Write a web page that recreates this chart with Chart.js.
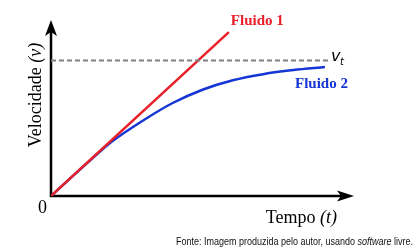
<!DOCTYPE html>
<html>
<head>
<meta charset="utf-8">
<script src="https://cdn.jsdelivr.net/npm/chart.js@4"></script>
<style>
  html, body { margin: 0; padding: 0; background: #fff; }
  canvas { display: block; }
</style>
</head>
<body>
<canvas id="grafico" width="418" height="249"></canvas>
<script>
// Dados (tempo em unidades arbitrarias, velocidade com v_t = 1)
const tempoFluido1 = [0, 5.87];
const velFluido1 = [0, 1.21];

const tempoFluido2 = [0, 0.5, 1, 1.5, 2, 3, 4, 5, 6, 7, 8, 9.04];
const velFluido2 = [0, 0.103, 0.205, 0.305, 0.40, 0.552, 0.685, 0.785, 0.855, 0.90, 0.93, 0.952];

const tempoVt = [0, 9.14];
const velVt = [1, 1];

const limiteTempo = 10;
const limiteVel = 1.3;

const vermelho = '#e8202a';
const azul = '#1535d4';

const pontos = (xs, ys) => xs.map((x, i) => ({ x: x, y: ys[i] }));

//---- Plugin que desenha os eixos com setas e os textos ----
const eixosSetas = {
    id: 'eixosSetas',
    beforeDatasetsDraw(chart) {
        const ctx = chart.ctx;
        const a = chart.chartArea;
        ctx.save();
        ctx.strokeStyle = '#000';
        ctx.fillStyle = '#000';
        ctx.lineWidth = 2.5;
        ctx.beginPath();
        ctx.moveTo(a.left, a.top + 8);
        ctx.lineTo(a.left, a.bottom);
        ctx.lineTo(a.right - 8, a.bottom);
        ctx.stroke();

        // seta do eixo vertical
        ctx.beginPath();
        ctx.moveTo(a.left, a.top);
        ctx.lineTo(a.left + 6, a.top + 16);
        ctx.lineTo(a.left, a.top + 12);
        ctx.lineTo(a.left - 6, a.top + 16);
        ctx.closePath();
        ctx.fill();

        // seta do eixo horizontal
        ctx.beginPath();
        ctx.moveTo(a.right, a.bottom);
        ctx.lineTo(a.right - 17, a.bottom - 5.5);
        ctx.lineTo(a.right - 13, a.bottom);
        ctx.lineTo(a.right - 17, a.bottom + 5.5);
        ctx.closePath();
        ctx.fill();
        ctx.restore();
    },
    afterDraw(chart) {
        const ctx = chart.ctx;
        const a = chart.chartArea;
        const sx = chart.scales.x;
        const sy = chart.scales.y;
        ctx.save();
        ctx.textBaseline = 'alphabetic';

        // rotulos das curvas
        ctx.font = 'bold 15px "Liberation Serif"';
        ctx.fillStyle = vermelho;
        ctx.textAlign = 'left';
        ctx.fillText('Fluido 1', sx.getPixelForValue(tempoFluido1[1]) + 2, 25);
        ctx.fillStyle = azul;
        ctx.fillText('Fluido 2', 295, 88);

        // v_t
        ctx.fillStyle = '#000';
        const yVt = sy.getPixelForValue(velVt[0]);
        ctx.font = 'italic 16px "DejaVu Sans"';
        ctx.fillText('v', 331, yVt);
        ctx.font = 'italic 10px "DejaVu Sans"';
        ctx.fillText('t', 340, yVt + 4);

        // origem
        ctx.font = '18px "Liberation Serif"';
        ctx.textAlign = 'right';
        ctx.fillText('0', a.left - 4, a.bottom + 17);

        // titulo do eixo x
        ctx.textAlign = 'left';
        const t1 = 'Tempo ';
        const t2 = '(t)';
        ctx.font = '18px "Liberation Serif"';
        const w1 = ctx.measureText(t1).width;
        ctx.font = 'italic 18px "Liberation Serif"';
        const w2 = ctx.measureText(t2).width;
        const xT = 337 - w1 - w2;
        ctx.font = '18px "Liberation Serif"';
        ctx.fillText(t1, xT, 223);
        ctx.font = 'italic 18px "Liberation Serif"';
        ctx.fillText(t2, xT + w1, 223);

        // titulo do eixo y (rodado)
        ctx.save();
        ctx.translate(41, 95);
        ctx.rotate(-Math.PI / 2);
        const v1 = 'Velocidade ';
        const v2 = '(v)';
        ctx.font = '18px "Liberation Serif"';
        const wv1 = ctx.measureText(v1).width;
        ctx.font = 'italic 18px "Liberation Serif"';
        const wv2 = ctx.measureText(v2).width;
        const x0 = -(wv1 + wv2) / 2;
        ctx.font = '18px "Liberation Serif"';
        ctx.fillText(v1, x0, 0);
        ctx.font = 'italic 18px "Liberation Serif"';
        ctx.fillText(v2, x0 + wv1, 0);
        ctx.restore();

        // fonte da figura (letra estreita: comprime na horizontal)
        const partes = [
            ['Fonte: Imagem produzida pelo autor, usando ', ''],
            ['software', 'italic '],
            [' livre.', '']
        ];
        const familia = '10.5px "Liberation Sans"';
        let total = 0;
        partes.forEach(p => {
            ctx.font = p[1] + familia;
            total += ctx.measureText(p[0]).width;
        });
        const larguraAlvo = 237;
        const fator = larguraAlvo / total;
        ctx.save();
        ctx.translate(413 - larguraAlvo, 245);
        ctx.scale(fator, 1);
        let xf = 0;
        ctx.fillStyle = '#111';
        partes.forEach(p => {
            ctx.font = p[1] + familia;
            ctx.fillText(p[0], xf, 0);
            xf += ctx.measureText(p[0]).width;
        });
        ctx.restore();
        ctx.restore();
    }
};

const grafico = new Chart(document.querySelector('#grafico'), {
    type: 'line',
    data: {
        datasets: [
            {
                label: 'v_t',
                data: pontos(tempoVt, velVt),
                borderColor: '#808080',
                borderWidth: 2,
                borderDash: [5, 3],
                pointRadius: 0
            },
            {
                label: 'Fluido 1',
                data: pontos(tempoFluido1, velFluido1),
                borderColor: vermelho,
                borderWidth: 2.5,
                pointRadius: 0
            },
            {
                label: 'Fluido 2',
                data: pontos(tempoFluido2, velFluido2),
                borderColor: azul,
                borderWidth: 2.5,
                pointRadius: 0,
                cubicInterpolationMode: 'monotone'
            }
        ]
    },
    options: {
        responsive: false,
        animation: false,
        layout: {
            padding: { left: 51, top: 20, right: 64, bottom: 53 }
        },
        scales: {
            x: {
                type: 'linear',
                display: false,
                min: 0,
                max: limiteTempo
            },
            y: {
                type: 'linear',
                display: false,
                min: 0,
                max: limiteVel
            }
        },
        plugins: {
            legend: { display: false },
            tooltip: { enabled: false }
        }
    },
    plugins: [eixosSetas]
});
</script>
</body>
</html>
